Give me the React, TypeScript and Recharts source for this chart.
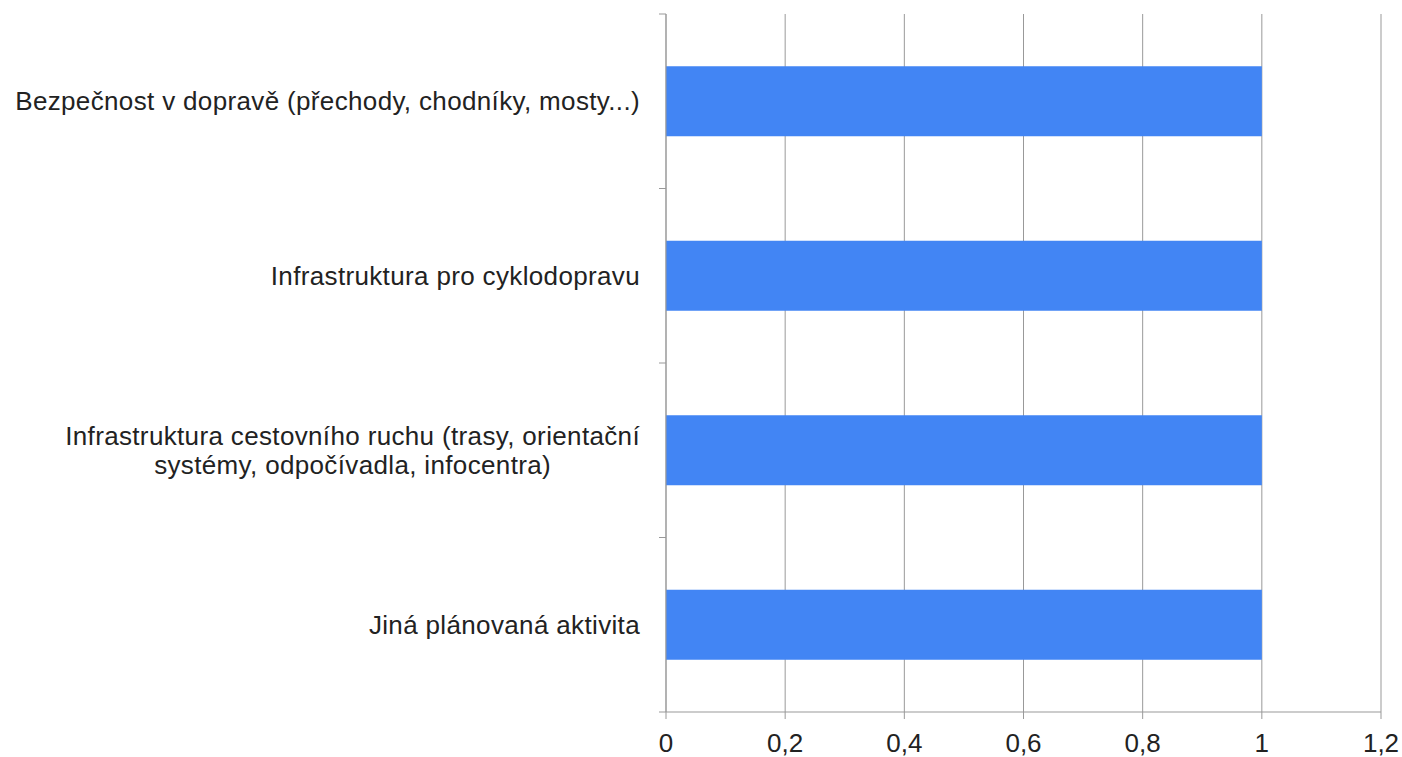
import React from "react";
import {
  BarChart,
  Bar,
  XAxis,
  YAxis,
  CartesianGrid,
} from "recharts";

const categories = [
  "Bezpečnost v dopravě (přechody, chodníky, mosty...)",
  "Infrastruktura pro cyklodopravu",
  "Infrastruktura cestovního ruchu (trasy, orientační|systémy, odpočívadla, infocentra)",
  "Jiná plánovaná aktivita",
];
const values = [1, 1, 1, 1];
const xTicks = [0, 0.2, 0.4, 0.6, 0.8, 1, 1.2];

const data = categories.map((name, i) => ({ name, value: values[i] }));

const W = 1402;
const H = 757;
const M = { top: 14, right: 21, bottom: 0, left: 0 };
const X_AXIS_H = 45;
const AXIS_W = 666;
const FONT = "'Liberation Sans', Arial, sans-serif";
const FS = 26;
const LS = 0.35;
const GRAY = "#999";

let ctx: CanvasRenderingContext2D | null = null;
function measure(s: string) {
  if (!ctx) ctx = document.createElement("canvas").getContext("2d");
  if (!ctx) return s.length * FS * 0.5;
  ctx.font = `${FS}px ${FONT}`;
  return ctx.measureText(s).width + s.length * LS;
}

const band = (H - M.top - M.bottom - X_AXIS_H) / categories.length;

function CatTick(props: any) {
  const { x, y, payload, index } = props;
  const lines: string[] = String(payload.value).split("|");
  const right = x - 18;
  const maxW = Math.max(...lines.map(measure));
  const lh = 29;
  const y0 = y - ((lines.length - 1) * lh) / 2;
  return (
    <g>
      <line x1={x + 1} x2={x + 8} y1={y - band / 2} y2={y - band / 2} stroke={GRAY} />
      {index === categories.length - 1 && (
        <line x1={x + 1} x2={x + 8} y1={y + band / 2} y2={y + band / 2} stroke={GRAY} />
      )}
      {lines.map((l, i) => (
        <text
          key={i}
          x={lines.length > 1 ? right - maxW / 2 : right}
          y={y0 + i * lh}
          dy="0.35em"
          textAnchor={lines.length > 1 ? "middle" : "end"}
          fontFamily={FONT}
          fontSize={FS}
          letterSpacing={LS}
          fill="#222"
        >
          {l}
        </text>
      ))}
    </g>
  );
}

export default function App() {
  return (
    <div style={{ position: "absolute", left: 0, top: 0, background: "#fff" }}>
      <BarChart
        width={W}
        height={H}
        data={data}
        layout="vertical"
        margin={M}
        barCategoryGap="30%"
      >
        <CartesianGrid horizontal={false} stroke={GRAY} />
        <XAxis
          type="number"
          domain={[0, 1.2]}
          ticks={xTicks}
          interval={0}
          height={X_AXIS_H}
          tickFormatter={(v: number) => String(v).replace(".", ",")}
          stroke={GRAY}
          tickSize={7}
          tick={{ fill: "#222", fontSize: FS, fontFamily: FONT }}
          tickMargin={15}
        />
        <YAxis
          type="category"
          dataKey="name"
          width={AXIS_W}
          stroke={GRAY}
          tickLine={false}
          tick={<CatTick />}
          interval={0}
        />
        <Bar dataKey="value" fill="#4285f4" isAnimationActive={false} />
      </BarChart>
    </div>
  );
}
